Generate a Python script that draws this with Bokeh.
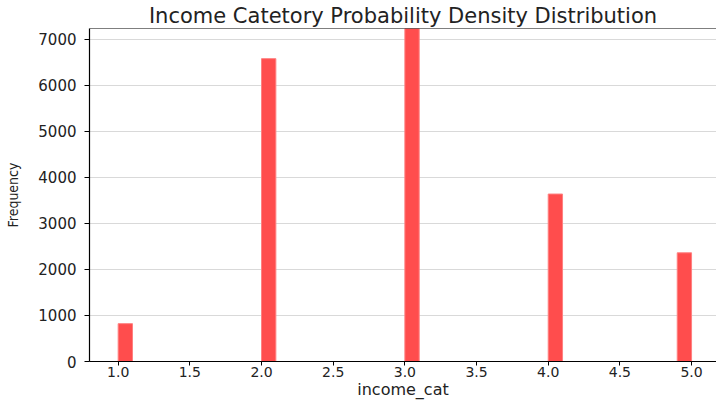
import numpy as np
from bokeh.plotting import figure
from bokeh.models import FixedTicker, NumeralTickFormatter, Span, Range1d
from bokeh.embed import file_html
from bokeh.resources import INLINE

# data
income_cat = [1, 2, 3, 4, 5]
frequency = [822, 6581, 7236, 3639, 2362]
x_ticks = [1.0, 1.5, 2.0, 2.5, 3.0, 3.5, 4.0, 4.5, 5.0]
y_ticks = [0, 1000, 2000, 3000, 4000, 5000, 6000, 7000]
n_bins = 40

edges = np.linspace(min(income_cat), max(income_cat), n_bins + 1)
idx = np.clip(np.searchsorted(edges, income_cat, side="right") - 1, 0, n_bins - 1)
left = edges[idx]
right = edges[idx + 1]

p = figure(width=716, height=401, output_backend="svg", toolbar_location=None,
           x_range=Range1d(0.8, 5.174), y_range=Range1d(0, max(frequency)),
           title="Income Catetory Probability Density Distribution",
           min_border_left=89, min_border_right=0, min_border_top=0, min_border_bottom=0)

p.quad(left=left, right=right, bottom=0, top=frequency,
       fill_color="#ff4d4d", line_color="#ff8080", line_width=1)

p.title.align = "center"
p.title.text_font = "DejaVu Sans"
p.title.text_font_size = "21px"
p.title.text_font_style = "normal"
p.title.text_color = "#222222"
p.title.offset = 0
p.title.standoff = 2

p.outline_line_color = None
p.add_layout(Span(location=max(frequency), dimension="width", line_color="black", line_width=1.2))

p.xgrid.visible = False
p.ygrid.grid_line_color = "#d9d9d9"
p.ygrid.grid_line_width = 1.2

for ax in (p.xaxis[0], p.yaxis[0]):
    ax.axis_line_color = "black"
    ax.axis_line_width = 1.2
    ax.major_tick_line_color = "black"
    ax.major_tick_out = 5
    ax.major_tick_in = 0
    ax.minor_tick_line_color = None
    ax.major_label_text_font = "DejaVu Sans"
    ax.major_label_text_font_size = "15px"
    ax.major_label_text_color = "#222222"

p.xaxis.ticker = FixedTicker(ticks=x_ticks)
p.xaxis.formatter = NumeralTickFormatter(format="0.0")
p.xaxis.major_label_standoff = 1
p.xaxis.major_tick_out = 4
p.xaxis.major_label_text_font_size = "14px"
p.xaxis.axis_label = "income_cat"
p.xaxis.axis_label_text_font = "DejaVu Sans"
p.xaxis.axis_label_text_font_size = "16px"
p.xaxis.axis_label_text_font_style = "normal"
p.xaxis.axis_label_text_color = "#222222"
p.xaxis.axis_label_standoff = 0

p.yaxis.ticker = FixedTicker(ticks=y_ticks)
p.yaxis.major_label_standoff = 8
p.yaxis.axis_label = "Frequency"
p.yaxis.axis_label_text_font = "DejaVu Sans Condensed"
p.yaxis.axis_label_text_font_size = "14px"
p.yaxis.axis_label_text_font_style = "normal"
p.yaxis.axis_label_text_color = "#222222"
p.yaxis.axis_label_standoff = 14

open("out.html", "w").write(file_html(p, INLINE))
